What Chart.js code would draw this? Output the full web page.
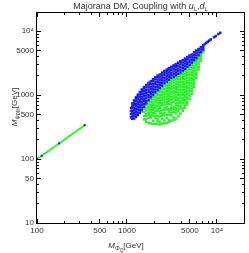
<!DOCTYPE html>
<html>
<head>
<meta charset="utf-8">
<script src="https://cdn.jsdelivr.net/npm/chart.js@4.4.1/dist/chart.umd.min.js"></script>
<style>
  html, body { margin: 0; padding: 0; background: #fff; }
  canvas { display: block; }
</style>
</head>
<body>
<canvas id="chart" width="249" height="253"></canvas>
<script>
// axis ticks
const xTicks = [100,200,300,400,500,600,700,800,900,1000,2000,3000,4000,5000,6000,7000,8000,9000,10000,20000];
const yTicks = [10,20,30,40,50,60,70,80,90,100,200,300,400,500,600,700,800,900,1000,2000,3000,4000,5000,6000,7000,8000,9000,10000,20000];
const xLabelVals = [100, 500, 1000, 5000, 10000];
const xLabelText = ['100', '500', '1000', '5000', '10⁴'];
const yLabelVals = [10, 50, 100, 500, 1000, 5000, 10000];
const yLabelText = ['10', '50', '100', '500', '1000', '5000', '10⁴'];

// low mass branch (GeV)
const lineX = [100,103,107,111,115,119,123,128,132,137,142,147,152,158,164,170,176,182,189,196,203,210,218,226,234,242,251,260,270,280,290,300,311,322,334,345];
const lineY = [99,103,106,111,114,119,124,127,132,136,142,146,152,157,164,169,176,181,189,195,203,209,218,225,234,241,251,259,270,279,290,299,311,321,334,344];
const lineBlueX = [100, 113, 176, 338];
const lineBlueY = [100, 113, 176, 338];

// scan points, each row: [M_phiQ, M_psiDM, M_psiDM, ...]
const greenCols = [
  [1460, 555],
  [1550, 418, 468, 545, 612],
  [1640, 383, 420, 472, 512, 575, 628, 705],
  [1740, 366, 441, 492, 531, 594, 648, 718, 795],
  [1840, 360, 444, 479, 536, 580, 646, 701, 780, 860],
  [1950, 355, 397, 481, 523, 584, 633, 706, 768, 856, 940],
  [2070, 353, 435, 470, 526, 569, 637, 690, 770, 836, 930, 1020],
  [2190, 351, 388, 420, 469, 568, 615, 686, 745, 829, 903, 1004, 1098],
  [2320, 349, 384, 465, 519, 563, 627, 681, 759, 826, 917, 999, 1110, 1196],
  [2460, 357, 428, 477, 518, 577, 698, 760, 843, 919, 1020, 1113, 1233, 1305],
  [2610, 364, 401, 485, 527, 587, 638, 709, 772, 857, 935, 1037, 1132, 1254, 1380],
  [2770, 366, 442, 493, 597, 648, 721, 785, 872, 951, 1054, 1150, 1275, 1394, 1515],
  [2930, 377, 410, 496, 553, 600, 727, 808, 880, 976, 1066, 1181, 1290, 1428, 1570],
  [3110, 398, 481, 523, 583, 633, 704, 766, 851, 928, 1029, 1124, 1245, 1360, 1505, 1655],
  [3300, 412, 448, 543, 604, 657, 795, 883, 963, 1068, 1166, 1292, 1412, 1562, 1709, 1800],
  [3500, 430, 520, 579, 629, 700, 761, 846, 922, 1023, 1116, 1236, 1351, 1496, 1636, 1808, 1890],
  [3710, 468, 567, 617, 686, 747, 830, 904, 1003, 1095, 1213, 1326, 1468, 1605, 1775, 1943],
  [3930, 515, 622, 678, 753, 820, 911, 993, 1101, 1203, 1332, 1456, 1611, 1763, 1948, 2094],
  [4170, 568, 619, 749, 831, 906, 1005, 1097, 1215, 1328, 1470, 1608, 1778, 1947, 2150, 2240],
  [4420, 633, 690, 766, 835, 926, 1011, 1120, 1224, 1355, 1481, 1638, 1793, 1981, 2171, 2385],
  [4680, 722, 789, 875, 955, 1058, 1156, 1279, 1399, 1548, 1694, 1872, 2050, 2265, 2490],
  [4960, 877, 972, 1061, 1175, 1284, 1421, 1555, 1719, 1882, 2079, 2278, 2515, 2745],
  [5260, 1052, 1164, 1272, 1408, 1541, 1703, 1865, 2060, 2258, 2492, 2733, 2990],
  [5570, 1352, 1494, 1636, 1807, 1980, 2186, 2396, 2644, 2900, 3200],
  [5910, 1858, 2050, 2246, 2479, 2719, 2999, 3291, 3515],
  [6260, 2525, 2768, 3053, 3350, 3694, 3895],
  [6640, 3435, 3765, 4105, 4325],
  [7040, 4700, 5000]
];
const blueCols = [
  [1110, 450, 505, 565, 630],
  [1150, 428, 465, 518, 563, 626, 682, 742],
  [1200, 430, 478, 520, 579, 628, 700, 761, 826],
  [1260, 457, 497, 553, 602, 670, 728, 810, 882, 924],
  [1320, 490, 534, 594, 646, 718, 782, 868, 947, 1016],
  [1390, 530, 578, 643, 700, 777, 846, 939, 1025, 1118],
  [1460, 588, 640, 712, 775, 861, 938, 1041, 1136, 1226],
  [1550, 662, 723, 803, 875, 971, 1059, 1174, 1283, 1336],
  [1640, 748, 817, 906, 988, 1095, 1196, 1324, 1442],
  [1740, 838, 927, 1012, 1122, 1226, 1357, 1484, 1562],
  [1840, 930, 1029, 1124, 1244, 1360, 1505, 1648],
  [1950, 1020, 1128, 1233, 1364, 1492, 1650, 1772],
  [2070, 1110, 1227, 1341, 1484, 1624, 1795, 1898],
  [2190, 1198, 1324, 1448, 1602, 1753, 1937, 2018],
  [2320, 1300, 1436, 1572, 1737, 1903, 2100],
  [2460, 1410, 1557, 1705, 1884, 2064, 2252],
  [2610, 1533, 1693, 1853, 2047, 2243, 2388],
  [2770, 1636, 1806, 1978, 2184, 2394, 2510],
  [2930, 1735, 1914, 2097, 2315, 2538, 2635],
  [3110, 1848, 2039, 2234, 2466, 2704, 2770],
  [3300, 1945, 2146, 2352, 2595, 2846, 2912],
  [3500, 2045, 2256, 2473, 2729, 2993, 3060],
  [3710, 2151, 2372, 2601, 2869, 3148, 3215],
  [3930, 2268, 2501, 2743, 3026, 3320, 3375],
  [4170, 2425, 2674, 2933, 3234, 3527],
  [4420, 2588, 2854, 3131, 3452, 3728],
  [4680, 2760, 3042, 3338, 3680, 3943],
  [4960, 2976, 3279, 3599, 3967, 4172],
  [5260, 3238, 3568, 3916, 4316],
  [5570, 3509, 3866, 4244, 4670],
  [5910, 3807, 4194, 4605, 4978],
  [6260, 4223, 4651, 5108, 5288],
  [6640, 4693, 5169, 5635],
  [7040, 5182, 5604, 6025],
  [7350, 6300], [7600, 6560], [7900, 6840], [8200, 7120], [8550, 7430],
  [9300, 8060], [9700, 8420], [10400, 9050], [10900, 9450]
];

const FONT = '"Liberation Sans", Arial, sans-serif';
const BLUE = '#1c1cf5';
const GREEN = '#2af02a';

function fromCols(cols) {
  const pts = [];
  cols.forEach(c => c.slice(1).forEach(m => pts.push({x: c[0], y: m})));
  return pts;
}
function fromXY(xs, ys) {
  return xs.map((v, i) => ({x: v, y: ys[i]}));
}
function label(vals, texts) {
  return v => {
    const i = vals.indexOf(v);
    return i < 0 ? '' : texts[i];
  };
}

// text with sub/superscripts: parts = [text, font, dy]
function richText(ctx, parts, cx, cy) {
  let w = 0;
  parts.forEach(p => { ctx.font = p[1]; w += ctx.measureText(p[0]).width; });
  let x = cx - w / 2;
  parts.forEach(p => {
    ctx.font = p[1];
    ctx.fillText(p[0], x, cy + p[2]);
    x += ctx.measureText(p[0]).width;
  });
}

const framePlugin = {
  id: 'frame',
  afterDraw(chart) {
    const {ctx, chartArea: a, scales: {x, y}} = chart;
    ctx.save();
    ctx.strokeStyle = '#000';
    ctx.lineWidth = 1;
    ctx.strokeRect(a.left - 0.5, a.top + 0.5, a.right - a.left + 1, a.bottom - a.top);
    ctx.beginPath();
    x.ticks.forEach(t => {
      const p = Math.floor(x.getPixelForValue(t.value)) + 0.5;
      const len = xLabelVals.includes(t.value) ? 4 : 2;
      ctx.moveTo(p, a.bottom); ctx.lineTo(p, a.bottom - len);
      ctx.moveTo(p, a.top + 1); ctx.lineTo(p, a.top + 1 + len);
    });
    y.ticks.forEach(t => {
      const p = Math.floor(y.getPixelForValue(t.value)) + 0.5;
      const len = yLabelVals.includes(t.value) ? 4 : 2;
      ctx.moveTo(a.left, p); ctx.lineTo(a.left + len, p);
      ctx.moveTo(a.right, p); ctx.lineTo(a.right - len, p);
    });
    ctx.stroke();

    ctx.fillStyle = '#333';
    ctx.textBaseline = 'alphabetic';
    const n = s => s + 'px ' + FONT;
    const it = s => 'italic ' + s + 'px ' + FONT;
    richText(ctx, [
      ['Majorana DM, Coupling with ', n(9), 0],
      ['u', it(9), 0], ['L', n(6), 2], [',', n(9), 0],
      ['d', it(9), 0], ['L', n(6), 2]
    ], (a.left + a.right) / 2, 9);
    richText(ctx, [
      ['M', it(8), 0], ['Φ', n(6), 2], ['Q', n(4.5), 3.5], ['[GeV]', n(8), 0]
    ], 126, 248);
    ctx.translate(16.5, 107);
    ctx.rotate(-Math.PI / 2);
    richText(ctx, [
      ['M', it(8), 0], ['ψ', n(6), 2], ['DM', n(4.5), 3.5], ['[GeV]', n(8), 0]
    ], 0, 0);
    ctx.restore();
  }
};

const marks = (color, r) => ({
  backgroundColor: color,
  borderWidth: 0,
  pointStyle: 'rect',
  pointRadius: r,
  pointHoverRadius: r
});

new Chart(document.getElementById('chart'), {
  type: 'scatter',
  data: {
    datasets: [
      Object.assign({label: 'blue', data: fromCols(blueCols)}, marks(BLUE, 1.8)),
      Object.assign({label: 'blue line', data: fromXY(lineBlueX, lineBlueY)}, marks(BLUE, 1.4)),
      Object.assign({label: 'green', data: fromCols(greenCols)}, marks(GREEN, 1.8)),
      Object.assign({label: 'green line', data: fromXY(lineX, lineY)}, marks(GREEN, 1.4))
    ]
  },
  options: {
    responsive: false,
    animation: false,
    devicePixelRatio: 1,
    layout: { padding: { left: 0, right: 5, top: 12, bottom: 0 } },
    plugins: { legend: { display: false }, tooltip: { enabled: false } },
    scales: {
      x: {
        type: 'logarithmic', min: 100, max: 20000,
        grid: { display: false, drawTicks: false },
        border: { display: false },
        afterBuildTicks: s => { s.ticks = xTicks.map(v => ({value: v})); },
        afterFit: s => { s.height = 30; },
        ticks: {
          autoSkip: false, maxRotation: 0, padding: 3, color: '#333',
          font: { family: FONT, size: 8 },
          callback: label(xLabelVals, xLabelText)
        }
      },
      y: {
        type: 'logarithmic', min: 10, max: 20000,
        grid: { display: false, drawTicks: false },
        border: { display: false },
        afterBuildTicks: s => { s.ticks = yTicks.map(v => ({value: v})); },
        afterFit: s => { s.width = 37; },
        ticks: {
          autoSkip: false, padding: 3, color: '#333',
          font: { family: FONT, size: 8 },
          callback: label(yLabelVals, yLabelText)
        }
      }
    }
  },
  plugins: [framePlugin]
});
</script>
</body>
</html>
